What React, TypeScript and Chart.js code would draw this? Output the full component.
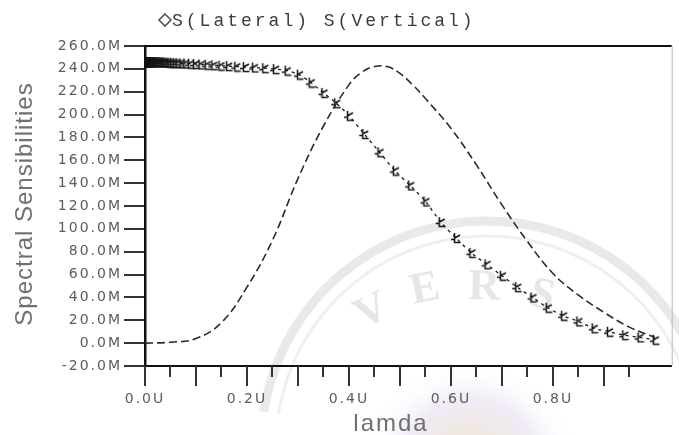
import { useEffect, useRef } from 'react';
import { Chart, registerables } from 'chart.js';

Chart.register(...registerables);

// lamda (U) sample positions and S(Vertical) values (M)
const LAMBDA_V = [0, 0.05, 0.1, 0.15, 0.2, 0.25, 0.3, 0.35, 0.4, 0.425, 0.45, 0.475, 0.5, 0.525, 0.55, 0.6, 0.65, 0.7, 0.75, 0.8, 0.85, 0.9, 0.95, 1.0];
const S_VERTICAL = [0, 0.8, 4, 18, 49, 90, 144, 190, 226, 237, 242, 242, 236, 226, 214, 188, 156, 121, 89, 61, 42, 27, 14, 5];

// lamda (U) sample positions and S(Lateral) values (M)
const LAMBDA_L = [
  0.0005, 0.001, 0.0015, 0.002, 0.0025, 0.003, 0.004, 0.005, 0.006, 0.007, 0.008, 0.009, 0.01, 0.011, 0.012, 0.013,
  0.014, 0.016, 0.018, 0.02, 0.022, 0.024, 0.026, 0.028, 0.031, 0.034, 0.037, 0.04, 0.044, 0.048, 0.053,
  0.058, 0.064, 0.071, 0.079, 0.088, 0.098, 0.109, 0.121, 0.134, 0.148, 0.163, 0.179, 0.196, 0.214, 0.234,
  0.255, 0.278, 0.302, 0.325, 0.35, 0.375, 0.4, 0.43, 0.46, 0.49, 0.52, 0.55, 0.58, 0.61, 0.64, 0.67, 0.7,
  0.73, 0.76, 0.79, 0.82, 0.85, 0.88, 0.91, 0.94, 0.97, 1.0,
];
const S_LATERAL = [
  246, 246, 246, 246, 246, 246, 246, 246, 246, 246, 246, 246, 246, 246, 246, 246,
  246, 246, 246, 246, 246, 246, 246, 246, 246, 245.9, 245.8, 245.7, 245.6, 245.5, 245.4,
  245.3, 245.1, 244.9, 244.7, 244.5, 244.2, 243.9, 243.6, 243.2, 242.8, 242.4, 242, 241.6, 241.2, 240.6,
  239.8, 238.5, 235, 228, 219, 210, 199, 183, 167, 151, 138, 124, 106, 92, 79, 69, 59,
  49, 40, 31, 24, 19, 13, 10, 7, 5, 3,
];

const Y_MIN = -20;
const Y_MAX = 260;
const Y_STEP = 20;
const X_MIN = 0;
const X_MAX = 1.033;
const X_STEP = 0.05;
const X_LABELED = [0, 0.2, 0.4, 0.6, 0.8];

const LEGEND_LABEL = 'S(Lateral) S(Vertical)';
const Y_TITLE = 'Spectral Sensibilities';
const X_TITLE = 'lamda';
const WATERMARK_LETTERS = ['V', 'E', 'R', 'S'];

const TEXT_GRAY = '#5c5c5c';

function makeMarker(): HTMLCanvasElement {
  const c = document.createElement('canvas');
  c.width = 12;
  c.height = 12;
  const g = c.getContext('2d')!;
  g.strokeStyle = '#151515';
  g.lineWidth = 1.5;
  g.beginPath();
  g.moveTo(4.5, 1);
  g.lineTo(4.5, 10.5);
  g.lineTo(10.5, 10.5);
  g.moveTo(4.5, 6);
  g.lineTo(10, 3);
  g.moveTo(1, 7.5);
  g.lineTo(4.5, 7.5);
  g.stroke();
  return c;
}

const watermarkPlugin = {
  id: 'watermark',
  beforeDraw(chart: any) {
    const ctx = chart.ctx as CanvasRenderingContext2D;
    ctx.save();
    const grd = ctx.createRadialGradient(470, 470, 10, 470, 470, 110);
    grd.addColorStop(0, 'rgba(238, 226, 200, 0.9)');
    grd.addColorStop(0.6, 'rgba(236, 230, 244, 0.8)');
    grd.addColorStop(1, 'rgba(255, 255, 255, 0)');
    ctx.fillStyle = grd;
    ctx.fillRect(330, 360, 300, 80);
    ctx.strokeStyle = '#e9e9e9';
    ctx.lineWidth = 9;
    ctx.beginPath();
    ctx.arc(487, 447, 226, Math.PI * 1.05, Math.PI * 1.98);
    ctx.stroke();
    ctx.strokeStyle = '#efefef';
    ctx.lineWidth = 3;
    ctx.beginPath();
    ctx.arc(487, 447, 211, Math.PI * 1.05, Math.PI * 1.98);
    ctx.stroke();
    ctx.fillStyle = '#e6e6e6';
    ctx.font = 'bold 44px "Liberation Serif", serif';
    ctx.textAlign = 'center';
    ctx.textBaseline = 'middle';
    const pos = [
      [372, 312, -0.45],
      [425, 290, -0.2],
      [484, 288, 0.02],
      [542, 296, 0.25],
    ];
    WATERMARK_LETTERS.forEach((ch, i) => {
      ctx.save();
      ctx.translate(pos[i][0], pos[i][1]);
      ctx.rotate(pos[i][2]);
      ctx.fillText(ch, 0, 0);
      ctx.restore();
    });
    ctx.restore();
    ctx.letterSpacing = '2px';
  },
};

const framePlugin = {
  id: 'frame',
  afterDraw(chart: any) {
    const ctx = chart.ctx as CanvasRenderingContext2D;
    const { left, right, top, bottom } = chart.chartArea;
    const xs = chart.scales.x;
    ctx.save();
    ctx.letterSpacing = '0px';
    ctx.strokeStyle = '#111';
    ctx.lineWidth = 2;
    ctx.beginPath();
    ctx.moveTo(left, top);
    ctx.lineTo(right, top);
    ctx.stroke();
    ctx.strokeStyle = '#b8b8b8';
    ctx.lineWidth = 1;
    ctx.beginPath();
    ctx.moveTo(right + 0.5, top);
    ctx.lineTo(right + 0.5, bottom);
    ctx.stroke();
    ctx.strokeStyle = '#333';
    ctx.lineWidth = 2;
    for (const t of xs.ticks) {
      const v = t.value;
      const k = Math.round(v / X_STEP);
      if (Math.abs(k * X_STEP - v) > 1e-6) continue;
      const px = Math.round(xs.getPixelForValue(v));
      const len = k % 2 === 0 ? 20 : 11;
      ctx.beginPath();
      ctx.moveTo(px, bottom);
      ctx.lineTo(px, bottom + len);
      ctx.stroke();
    }
    ctx.fillStyle = '#707070';
    ctx.save();
    ctx.translate(25, (top + bottom) / 2 - 2);
    ctx.rotate(-Math.PI / 2);
    ctx.font = '24px "Liberation Sans", Arial, sans-serif';
    ctx.letterSpacing = '1px';
    ctx.textAlign = 'center';
    ctx.textBaseline = 'middle';
    ctx.fillText(Y_TITLE, 0, 0);
    ctx.restore();
    ctx.save();
    ctx.font = '24px "Liberation Sans", Arial, sans-serif';
    ctx.letterSpacing = '2px';
    ctx.textAlign = 'center';
    ctx.textBaseline = 'alphabetic';
    ctx.fillText(X_TITLE, 391, 431);
    ctx.restore();
    ctx.save();
    ctx.strokeStyle = '#555';
    ctx.lineWidth = 1.6;
    ctx.beginPath();
    ctx.moveTo(165, 14);
    ctx.lineTo(171, 20);
    ctx.lineTo(165, 26);
    ctx.lineTo(159, 20);
    ctx.closePath();
    ctx.stroke();
    ctx.fillStyle = '#3c3c3c';
    ctx.font = '18px "Liberation Mono", "DejaVu Sans Mono", monospace';
    ctx.letterSpacing = '3px';
    ctx.textAlign = 'left';
    ctx.textBaseline = 'alphabetic';
    ctx.fillText(LEGEND_LABEL, 172, 26);
    ctx.restore();
    ctx.restore();
  },
};

export default function App() {
  const ref = useRef<HTMLCanvasElement | null>(null);

  useEffect(() => {
    if (!ref.current) return;
    const marker = makeMarker();
    const chart = new Chart(ref.current, {
      type: 'line',
      data: {
        datasets: [
          {
            label: 'S(Vertical)',
            data: LAMBDA_V.map((x, i) => ({ x, y: S_VERTICAL[i] })),
            borderColor: '#2a2a2a',
            borderWidth: 1.6,
            borderDash: [8, 4],
            pointRadius: 0,
            tension: 0.4,
            fill: false,
          },
          {
            label: 'S(Lateral)',
            data: LAMBDA_L.map((x, i) => ({ x, y: S_LATERAL[i] })),
            borderColor: '#1a1a1a',
            borderWidth: 1.3,
            borderDash: [3, 4],
            pointStyle: marker,
            pointRadius: 6,
            tension: 0.3,
            fill: false,
          },
        ],
      },
      options: {
        responsive: false,
        animation: false,
        devicePixelRatio: 1,
        layout: { padding: { top: 46, right: 4, left: 0, bottom: 0 } },
        plugins: { legend: { display: false }, tooltip: { enabled: false }, title: { display: false } },
        scales: {
          x: {
            type: 'linear',
            min: X_MIN,
            max: X_MAX,
            afterFit: (s: any) => { s.height = 69; },
            border: { display: true, color: '#111', width: 2 },
            grid: { display: true, drawOnChartArea: false, drawTicks: true, tickLength: 20, tickColor: 'rgba(0,0,0,0)' },
            ticks: {
              stepSize: X_STEP,
              autoSkip: false,
              maxRotation: 0,
              padding: 5,
              color: TEXT_GRAY,
              font: { family: '"DejaVu Sans", sans-serif', size: 14 },
              callback: (v: any) => {
                const n = Number(v);
                const hit = X_LABELED.find((l) => Math.abs(l - n) < 1e-6);
                return hit === undefined ? '' : `${hit.toFixed(1)}U`;
              },
            },
          },
          y: {
            type: 'linear',
            min: Y_MIN,
            max: Y_MAX,
            afterFit: (s: any) => { s.width = 145; },
            border: { display: true, color: '#111', width: 2.5, dash: [6, 2] },
            grid: { display: true, drawOnChartArea: false, drawTicks: true, tickLength: 21, tickColor: '#333', lineWidth: 2 },
            ticks: {
              stepSize: Y_STEP,
              autoSkip: false,
              padding: 2,
              color: TEXT_GRAY,
              font: { family: '"DejaVu Sans", sans-serif', size: 14 },
              callback: (v: any) => `${Number(v).toFixed(1)}M`,
            },
          },
        },
      },
      plugins: [watermarkPlugin, framePlugin],
    } as any);
    return () => chart.destroy();
  }, []);

  return (
    <div style={{ position: 'fixed', left: 0, top: 0, width: 679, height: 435, background: '#fff' }}>
      <canvas ref={ref} width={679} height={435} style={{ width: 679, height: 435 }} />
    </div>
  );
}
